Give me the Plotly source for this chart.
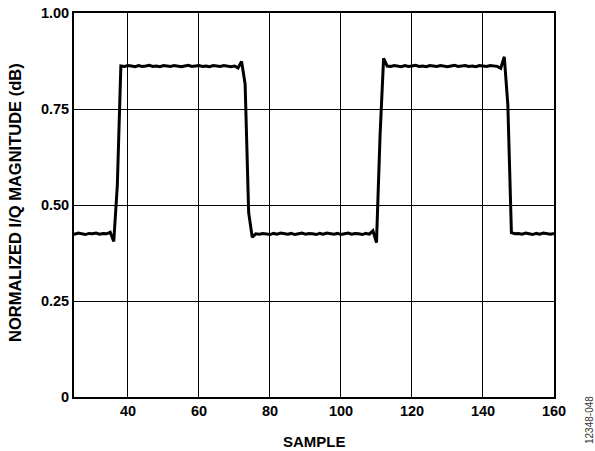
import plotly.graph_objects as go

samples = list(range(24, 161))
magnitude = [
    # 24-35 low
    0.426, 0.424, 0.427, 0.425, 0.423, 0.426, 0.425, 0.427, 0.424, 0.426, 0.425, 0.429,
    # 36-38 rise
    0.405, 0.550, 0.862,
    # 39-70 high
    0.861, 0.863, 0.862, 0.860, 0.863, 0.861, 0.862, 0.864, 0.861, 0.862, 0.860, 0.863,
    0.862, 0.861, 0.863, 0.862, 0.860, 0.862, 0.864, 0.861, 0.862, 0.863, 0.861, 0.862,
    0.860, 0.863, 0.862, 0.861, 0.863, 0.862, 0.860, 0.862,
    # 71-76 fall
    0.857, 0.874, 0.815, 0.480, 0.416, 0.425,
    # 77-108 low
    0.424, 0.426, 0.425, 0.423, 0.426, 0.424, 0.427, 0.425, 0.424, 0.426, 0.423, 0.425,
    0.427, 0.424, 0.426, 0.425, 0.423, 0.426, 0.424, 0.427, 0.425, 0.424, 0.426, 0.423,
    0.425, 0.427, 0.424, 0.426, 0.425, 0.423, 0.426, 0.424,
    # 109-113 rise
    0.433, 0.402, 0.680, 0.882, 0.862,
    # 114-144 high
    0.861, 0.863, 0.862, 0.860, 0.863, 0.861, 0.862, 0.864, 0.861, 0.862, 0.860, 0.863,
    0.862, 0.861, 0.863, 0.862, 0.860, 0.862, 0.864, 0.861, 0.862, 0.863, 0.861, 0.862,
    0.860, 0.863, 0.862, 0.861, 0.863, 0.862, 0.861,
    # 145-149 fall
    0.856, 0.886, 0.760, 0.428, 0.425,
    # 150-160 low
    0.426, 0.424, 0.427, 0.425, 0.423, 0.426, 0.424, 0.427, 0.425, 0.424, 0.426,
]

x_ticks = [40, 60, 80, 100, 120, 140, 160]
y_ticks = [0, 0.25, 0.50, 0.75, 1.00]
y_tick_labels = ["0", "0.25", "0.50", "0.75", "1.00"]
x_title = "SAMPLE"
y_title = "NORMALIZED I/Q MAGNITUDE (dB)"
figure_id = "12348-048"

FONT = "Liberation Sans, Arial, sans-serif"
W, H = 595, 451
L, R, T, B = 74, 41, 13, 54
PW, PH = W - L - R, H - T - B


def px_to_paper(x, y):
    return (x - L) / PW, (H - B - y) / PH


fig = go.Figure()
fig.add_trace(go.Scatter(
    x=samples, y=magnitude, mode="lines",
    line=dict(color="black", width=3),
    showlegend=False, hoverinfo="skip",
))

axis_common = dict(
    showgrid=True, gridcolor="black", gridwidth=1,
    showline=True, linecolor="black", linewidth=1.8, mirror=True,
    zeroline=False, ticks="", automargin=False,
    tickfont=dict(family=FONT, size=14.5, color="black"),
)

xt_x, xt_y = px_to_paper(314, 441)
yt_x, yt_y = px_to_paper(15, 203)
id_x, id_y = px_to_paper(589, 420)

fig.update_layout(
    width=W, height=H,
    margin=dict(l=L, r=R, t=T, b=B, pad=0),
    paper_bgcolor="white", plot_bgcolor="white",
    font=dict(family=FONT, color="black"),
    xaxis=dict(range=[24.8, 160], tickvals=x_ticks,
               ticktext=["<b>%d</b>" % v for v in x_ticks], **axis_common),
    yaxis=dict(range=[0, 1.0], tickvals=y_ticks,
               ticktext=["<b>%s</b>" % t for t in y_tick_labels], **axis_common),
    annotations=[
        dict(text="<b>%s</b>" % x_title, x=xt_x, y=xt_y, xref="paper", yref="paper",
             xanchor="center", yanchor="middle", showarrow=False,
             font=dict(family=FONT, size=15, color="black")),
        dict(text="<b>%s</b>" % y_title, x=yt_x, y=yt_y, xref="paper", yref="paper",
             xanchor="center", yanchor="middle", showarrow=False, textangle=-90,
             font=dict(family=FONT, size=16.5, color="black")),
        dict(text=figure_id, x=id_x, y=id_y, xref="paper", yref="paper",
             xanchor="center", yanchor="middle", showarrow=False, textangle=-90,
             font=dict(family=FONT, size=10, color="#333333")),
    ],
)

fig.write_html(
    "out.html",
    config={"displayModeBar": False},
    post_script="document.body.style.margin='0';document.body.style.overflow='hidden';",
)
